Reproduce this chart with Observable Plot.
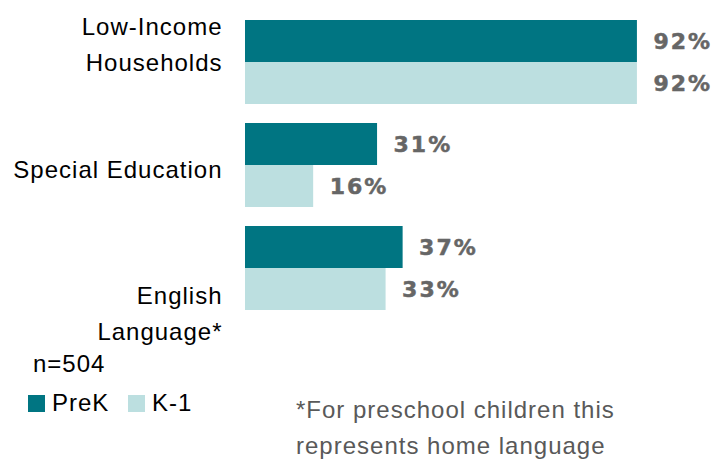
<!DOCTYPE html>
<html>
<head>
<meta charset="utf-8">
<script src="https://cdn.jsdelivr.net/npm/d3@7"></script>
<script src="https://cdn.jsdelivr.net/npm/@observablehq/plot@0.6"></script>
<style>
  html, body { margin: 0; padding: 0; background: #fff; }
  #wrap { position: relative; width: 717px; height: 462px; overflow: hidden; font-family: "Liberation Sans", Arial, sans-serif; }
  #chart svg { display: block; overflow: visible; }
  #chart svg text { letter-spacing: 1px; }
  #chart svg g[font-weight="bold"] text { letter-spacing: 2px; }
  .note { position: absolute; font-size: 24px; letter-spacing: 1px; white-space: nowrap; }
  .sw { position: absolute; width: 17px; height: 17px; }
</style>
</head>
<body>
<div id="wrap">
  <div id="chart"></div>
  <div class="note" id="n" style="left:33px; top:352px; line-height:24px; color:#000;"></div>
  <div id="legend"></div>
  <div class="note" id="foot" style="left:296px; top:392px; line-height:36px; color:#595959;"></div>
</div>
<script>
// ---- data ----
const categories = ["Low-Income Households", "Special Education", "English Language*"];
const categoryLabels = ["Low-Income\nHouseholds", "Special Education", "English\nLanguage*"];
const series = ["PreK", "K-1"];
const preK = [92, 31, 37];
const k1 = [92, 16, 33];
const sampleNote = "n=504";
const footnoteLines = ["*For preschool children this", "represents home language"];

// ---- styling / layout ----
const colors = ["#007582", "#bcdfe0"];
const labelDy = [-21, 1, 42];

const data = [];
categories.forEach((c, i) => {
  data.push({category: c, series: series[0], value: preK[i]});
  data.push({category: c, series: series[1], value: k1[i]});
});

const plot = Plot.plot({
  width: 717,
  height: 345,
  marginTop: 19,
  marginBottom: 35,
  marginLeft: 245,
  marginRight: 46,
  style: {fontFamily: "'Liberation Sans', Arial, sans-serif", background: "transparent"},
  x: {domain: [0, 100], axis: null},
  y: {domain: series, padding: 0, axis: null},
  fy: {domain: categories, paddingInner: 0.188, paddingOuter: 0, axis: null},
  color: {domain: series, range: colors},
  marks: [
    Plot.barX(data, {x: "value", y: "series", fy: "category", fill: "series"}),
    Plot.text(data, {
      x: "value", y: "series", fy: "category",
      text: d => d.value + "%",
      dx: 16, textAnchor: "start",
      fontSize: 22, fontWeight: "bold",
      fontFamily: "'DejaVu Sans', sans-serif",
      fill: "#666666",
      stroke: "#666666", strokeWidth: 0.5
    }),
    ...categories.map((c, i) => Plot.text([c], {
      fy: d => d,
      frameAnchor: "left",
      text: () => categoryLabels[i],
      dx: -23, dy: labelDy[i],
      textAnchor: "end",
      lineHeight: 1.5,
      fontSize: 24,
      fill: "#000"
    }))
  ]
});
document.getElementById("chart").appendChild(plot);

// ---- notes & legend ----
document.getElementById("n").textContent = sampleNote;
document.getElementById("foot").innerHTML = footnoteLines.map(s => s.replace(/&/g, "&amp;")).join("<br>");

const legend = document.getElementById("legend");
const legendX = [28, 128];
series.forEach((s, i) => {
  const sw = document.createElement("div");
  sw.className = "sw";
  sw.style.left = legendX[i] + "px";
  sw.style.top = "395px";
  sw.style.background = colors[i];
  legend.appendChild(sw);
  const t = document.createElement("div");
  t.className = "note";
  t.style.left = (legendX[i] + 24) + "px";
  t.style.top = "391px";
  t.style.lineHeight = "24px";
  t.style.color = "#000";
  t.textContent = s;
  legend.appendChild(t);
});
</script>
</body>
</html>
